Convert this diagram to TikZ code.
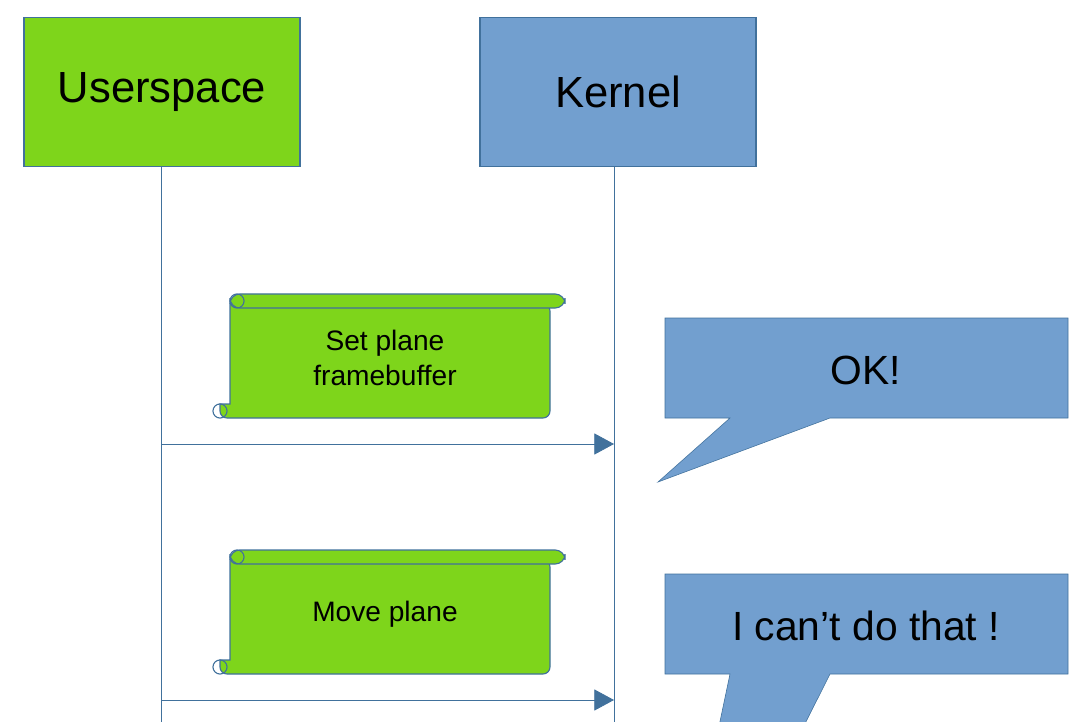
\documentclass[tikz,border=0pt]{standalone}
\usepackage{fontspec}
\setmainfont{Liberation Sans}
\usetikzlibrary{arrows.meta}
\definecolor{usergreen}{HTML}{7ED51B}
\definecolor{kernblue}{HTML}{729FCF}
\definecolor{edgeblue}{HTML}{41719C}
\tikzset{
    actor/.style={draw=edgeblue,thick,minimum width=6.9cm,minimum height=3.725cm,
        font=\fontsize{31}{36}\selectfont},
    lifeline/.style={draw=edgeblue,semithick},
    call/.style={lifeline,-{Triangle[length=14pt,width=15pt]}},
    scroll/.style={draw=edgeblue,thick,fill=usergreen,rounded corners=5pt},
    reply/.style={draw=edgeblue,fill=kernblue},
}
\begin{document}
\begin{tikzpicture}[x=0.025cm,y=-0.025cm]
    \useasboundingbox (0,0) rectangle (1080,722);

    \node[actor,fill=usergreen] (user) at (162,92) {Userspace};
    \node[actor,fill=kernblue] (kern) at (618,92) {Kernel};
    \coordinate (userend) at (161,722);
    \coordinate (kernend) at (614,722);
    \draw[lifeline] (user.south -| userend) -- (userend);
    \draw[lifeline] (kern.south -| kernend) -- (kernend);

    % messages and replies
    \foreach \dy/\msg/\ans/\tail [count=\i] in {0/{Set plane\\framebuffer}/{OK!}/482,
            256/{Move plane}/{I can’t do that !}/760} {
        \begin{scope}[yshift=-\dy*0.025cm]
            \draw[scroll] (230,304) -- (550,304) -- (550,418) -- (220,418)
                [sharp corners] -- (220,404) -- (230,404) -- cycle;
            \draw[scroll,rounded corners=7pt] (230,294) rectangle (565,308);
            \draw[edgeblue,thick] (237,301) circle (5pt) (220,411) circle (5pt);
            \node[align=center,font=\fontsize{20}{25}\selectfont] (msg\i) at (385,358) {\msg};
            \coordinate (from\i) at (161,444);
            \coordinate (to\i) at (614,444);
            \draw[call] (from\i) -- (to\i);
            \draw[reply] (665,318) -- (1068,318) -- (1068,418) -- (830,418)
                -- (658,\tail) -- (730,418) -- (665,418) -- cycle;
            \node[font=\fontsize{29}{34}\selectfont] (ans\i) at (866,370) {\ans};
        \end{scope}
    }
\end{tikzpicture}
\end{document}
